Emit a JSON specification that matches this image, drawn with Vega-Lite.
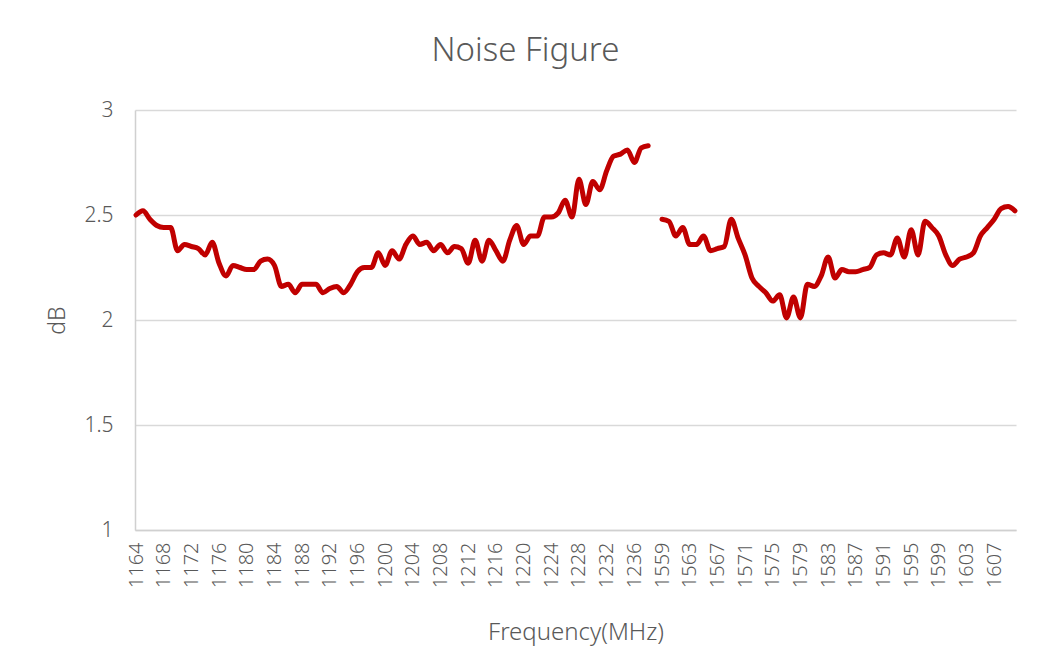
{
  "$schema": "https://vega.github.io/schema/vega-lite/v6.json",
  "width": 881,
  "height": 420,
  "autosize": {"type": "none"},
  "padding": {"left": 135, "top": 110, "right": 21, "bottom": 138},
  "background": "white",
  "title": {
    "text": "Noise Figure",
    "anchor": "middle",
    "frame": "group",
    "dx": -50,
    "offset": 5,
    "baseline": "alphabetic",
    "fontSize": 33,
    "font": "Noto Sans",
    "fontWeight": 300,
    "color": "#595959"
  },
  "data": {
    "values": [
      {"freq": "1164", "nf": 2.50, "band": "L5"},
      {"freq": "1165", "nf": 2.52, "band": "L5"},
      {"freq": "1166", "nf": 2.48, "band": "L5"},
      {"freq": "1167", "nf": 2.45, "band": "L5"},
      {"freq": "1168", "nf": 2.44, "band": "L5"},
      {"freq": "1169", "nf": 2.44, "band": "L5"},
      {"freq": "1170", "nf": 2.33, "band": "L5"},
      {"freq": "1171", "nf": 2.36, "band": "L5"},
      {"freq": "1172", "nf": 2.35, "band": "L5"},
      {"freq": "1173", "nf": 2.34, "band": "L5"},
      {"freq": "1174", "nf": 2.31, "band": "L5"},
      {"freq": "1175", "nf": 2.37, "band": "L5"},
      {"freq": "1176", "nf": 2.27, "band": "L5"},
      {"freq": "1177", "nf": 2.21, "band": "L5"},
      {"freq": "1178", "nf": 2.26, "band": "L5"},
      {"freq": "1179", "nf": 2.25, "band": "L5"},
      {"freq": "1180", "nf": 2.24, "band": "L5"},
      {"freq": "1181", "nf": 2.24, "band": "L5"},
      {"freq": "1182", "nf": 2.28, "band": "L5"},
      {"freq": "1183", "nf": 2.29, "band": "L5"},
      {"freq": "1184", "nf": 2.26, "band": "L5"},
      {"freq": "1185", "nf": 2.16, "band": "L5"},
      {"freq": "1186", "nf": 2.17, "band": "L5"},
      {"freq": "1187", "nf": 2.13, "band": "L5"},
      {"freq": "1188", "nf": 2.17, "band": "L5"},
      {"freq": "1189", "nf": 2.17, "band": "L5"},
      {"freq": "1190", "nf": 2.17, "band": "L5"},
      {"freq": "1191", "nf": 2.13, "band": "L5"},
      {"freq": "1192", "nf": 2.15, "band": "L5"},
      {"freq": "1193", "nf": 2.16, "band": "L5"},
      {"freq": "1194", "nf": 2.13, "band": "L5"},
      {"freq": "1195", "nf": 2.17, "band": "L5"},
      {"freq": "1196", "nf": 2.23, "band": "L5"},
      {"freq": "1197", "nf": 2.25, "band": "L5"},
      {"freq": "1198", "nf": 2.25, "band": "L5"},
      {"freq": "1199", "nf": 2.32, "band": "L5"},
      {"freq": "1200", "nf": 2.26, "band": "L5"},
      {"freq": "1201", "nf": 2.33, "band": "L5"},
      {"freq": "1202", "nf": 2.29, "band": "L5"},
      {"freq": "1203", "nf": 2.36, "band": "L5"},
      {"freq": "1204", "nf": 2.40, "band": "L5"},
      {"freq": "1205", "nf": 2.36, "band": "L5"},
      {"freq": "1206", "nf": 2.37, "band": "L5"},
      {"freq": "1207", "nf": 2.33, "band": "L5"},
      {"freq": "1208", "nf": 2.36, "band": "L5"},
      {"freq": "1209", "nf": 2.32, "band": "L5"},
      {"freq": "1210", "nf": 2.35, "band": "L5"},
      {"freq": "1211", "nf": 2.34, "band": "L5"},
      {"freq": "1212", "nf": 2.27, "band": "L5"},
      {"freq": "1213", "nf": 2.38, "band": "L5"},
      {"freq": "1214", "nf": 2.28, "band": "L5"},
      {"freq": "1215", "nf": 2.38, "band": "L5"},
      {"freq": "1216", "nf": 2.33, "band": "L5"},
      {"freq": "1217", "nf": 2.28, "band": "L5"},
      {"freq": "1218", "nf": 2.38, "band": "L5"},
      {"freq": "1219", "nf": 2.45, "band": "L5"},
      {"freq": "1220", "nf": 2.36, "band": "L5"},
      {"freq": "1221", "nf": 2.40, "band": "L5"},
      {"freq": "1222", "nf": 2.40, "band": "L5"},
      {"freq": "1223", "nf": 2.49, "band": "L5"},
      {"freq": "1224", "nf": 2.49, "band": "L5"},
      {"freq": "1225", "nf": 2.51, "band": "L5"},
      {"freq": "1226", "nf": 2.57, "band": "L5"},
      {"freq": "1227", "nf": 2.49, "band": "L5"},
      {"freq": "1228", "nf": 2.67, "band": "L5"},
      {"freq": "1229", "nf": 2.55, "band": "L5"},
      {"freq": "1230", "nf": 2.66, "band": "L5"},
      {"freq": "1231", "nf": 2.62, "band": "L5"},
      {"freq": "1232", "nf": 2.71, "band": "L5"},
      {"freq": "1233", "nf": 2.78, "band": "L5"},
      {"freq": "1234", "nf": 2.79, "band": "L5"},
      {"freq": "1235", "nf": 2.81, "band": "L5"},
      {"freq": "1236", "nf": 2.75, "band": "L5"},
      {"freq": "1237", "nf": 2.82, "band": "L5"},
      {"freq": "1238", "nf": 2.83, "band": "L5"},
      {"freq": "1559", "nf": 2.48, "band": "L1"},
      {"freq": "1560", "nf": 2.47, "band": "L1"},
      {"freq": "1561", "nf": 2.40, "band": "L1"},
      {"freq": "1562", "nf": 2.44, "band": "L1"},
      {"freq": "1563", "nf": 2.36, "band": "L1"},
      {"freq": "1564", "nf": 2.36, "band": "L1"},
      {"freq": "1565", "nf": 2.40, "band": "L1"},
      {"freq": "1566", "nf": 2.33, "band": "L1"},
      {"freq": "1567", "nf": 2.34, "band": "L1"},
      {"freq": "1568", "nf": 2.35, "band": "L1"},
      {"freq": "1569", "nf": 2.48, "band": "L1"},
      {"freq": "1570", "nf": 2.39, "band": "L1"},
      {"freq": "1571", "nf": 2.31, "band": "L1"},
      {"freq": "1572", "nf": 2.20, "band": "L1"},
      {"freq": "1573", "nf": 2.16, "band": "L1"},
      {"freq": "1574", "nf": 2.13, "band": "L1"},
      {"freq": "1575", "nf": 2.09, "band": "L1"},
      {"freq": "1576", "nf": 2.12, "band": "L1"},
      {"freq": "1577", "nf": 2.01, "band": "L1"},
      {"freq": "1578", "nf": 2.11, "band": "L1"},
      {"freq": "1579", "nf": 2.01, "band": "L1"},
      {"freq": "1580", "nf": 2.17, "band": "L1"},
      {"freq": "1581", "nf": 2.16, "band": "L1"},
      {"freq": "1582", "nf": 2.21, "band": "L1"},
      {"freq": "1583", "nf": 2.30, "band": "L1"},
      {"freq": "1584", "nf": 2.20, "band": "L1"},
      {"freq": "1585", "nf": 2.24, "band": "L1"},
      {"freq": "1586", "nf": 2.23, "band": "L1"},
      {"freq": "1587", "nf": 2.23, "band": "L1"},
      {"freq": "1588", "nf": 2.24, "band": "L1"},
      {"freq": "1589", "nf": 2.25, "band": "L1"},
      {"freq": "1590", "nf": 2.31, "band": "L1"},
      {"freq": "1591", "nf": 2.32, "band": "L1"},
      {"freq": "1592", "nf": 2.31, "band": "L1"},
      {"freq": "1593", "nf": 2.39, "band": "L1"},
      {"freq": "1594", "nf": 2.30, "band": "L1"},
      {"freq": "1595", "nf": 2.43, "band": "L1"},
      {"freq": "1596", "nf": 2.31, "band": "L1"},
      {"freq": "1597", "nf": 2.47, "band": "L1"},
      {"freq": "1598", "nf": 2.44, "band": "L1"},
      {"freq": "1599", "nf": 2.40, "band": "L1"},
      {"freq": "1600", "nf": 2.31, "band": "L1"},
      {"freq": "1601", "nf": 2.26, "band": "L1"},
      {"freq": "1602", "nf": 2.29, "band": "L1"},
      {"freq": "1603", "nf": 2.30, "band": "L1"},
      {"freq": "1604", "nf": 2.32, "band": "L1"},
      {"freq": "1605", "nf": 2.40, "band": "L1"},
      {"freq": "1606", "nf": 2.44, "band": "L1"},
      {"freq": "1607", "nf": 2.48, "band": "L1"},
      {"freq": "1608", "nf": 2.53, "band": "L1"},
      {"freq": "1609", "nf": 2.54, "band": "L1"},
      {"freq": "1610", "nf": 2.52, "band": "L1"}
    ]
  },
  "mark": {
    "type": "line",
    "color": "#C00000",
    "strokeWidth": 5,
    "strokeCap": "round",
    "strokeJoin": "round",
    "interpolate": "monotone"
  },
  "encoding": {
    "x": {
      "field": "freq",
      "type": "ordinal",
      "sort": null,
      "scale": {
        "type": "point",
        "padding": 0.15,
        "domain": ["1164","1165","1166","1167","1168","1169","1170","1171","1172","1173","1174","1175","1176","1177","1178","1179","1180","1181","1182","1183","1184","1185","1186","1187","1188","1189","1190","1191","1192","1193","1194","1195","1196","1197","1198","1199","1200","1201","1202","1203","1204","1205","1206","1207","1208","1209","1210","1211","1212","1213","1214","1215","1216","1217","1218","1219","1220","1221","1222","1223","1224","1225","1226","1227","1228","1229","1230","1231","1232","1233","1234","1235","1236","1237","1238","1239","1559","1560","1561","1562","1563","1564","1565","1566","1567","1568","1569","1570","1571","1572","1573","1574","1575","1576","1577","1578","1579","1580","1581","1582","1583","1584","1585","1586","1587","1588","1589","1590","1591","1592","1593","1594","1595","1596","1597","1598","1599","1600","1601","1602","1603","1604","1605","1606","1607","1608","1609","1610"]
      },
      "axis": {
        "title": "Frequency(MHz)",
        "values": ["1164","1168","1172","1176","1180","1184","1188","1192","1196","1200","1204","1208","1212","1216","1220","1224","1228","1232","1236","1559","1563","1567","1571","1575","1579","1583","1587","1591","1595","1599","1603","1607"],
        "labelAngle": 270,
        "labelAlign": "right",
        "labelBaseline": "middle",
        "labelPadding": 12,
        "labelFontSize": 20,
        "labelFont": "Noto Sans",
        "labelFontWeight": 300,
        "labelColor": "#595959",
        "labelOverlap": false,
        "ticks": false,
        "grid": false,
        "domainColor": "#d0d0d0",
        "domainWidth": 1.5,
        "titleFont": "Noto Sans",
        "titleFontWeight": 300,
        "titleFontSize": 24,
        "titleColor": "#595959",
        "titlePadding": 33
      }
    },
    "y": {
      "field": "nf",
      "type": "quantitative",
      "scale": {"domain": [1, 3], "nice": false, "zero": false},
      "axis": {
        "title": "dB",
        "values": [1, 1.5, 2, 2.5, 3],
        "format": "~g",
        "labelFontSize": 21,
        "labelFont": "Noto Sans",
        "labelFontWeight": 300,
        "labelColor": "#595959",
        "labelPadding": 22,
        "ticks": false,
        "grid": true,
        "gridColor": "#d9d9d9",
        "gridWidth": 1.5,
        "domainColor": "#d0d0d0",
        "domainWidth": 1.5,
        "titleFont": "Noto Sans",
        "titleFontWeight": 300,
        "titleFontSize": 23,
        "titleColor": "#595959",
        "titlePadding": 14
      }
    },
    "detail": {"field": "band", "type": "nominal"}
  },
  "config": {
    "view": {"stroke": null}
  }
}
